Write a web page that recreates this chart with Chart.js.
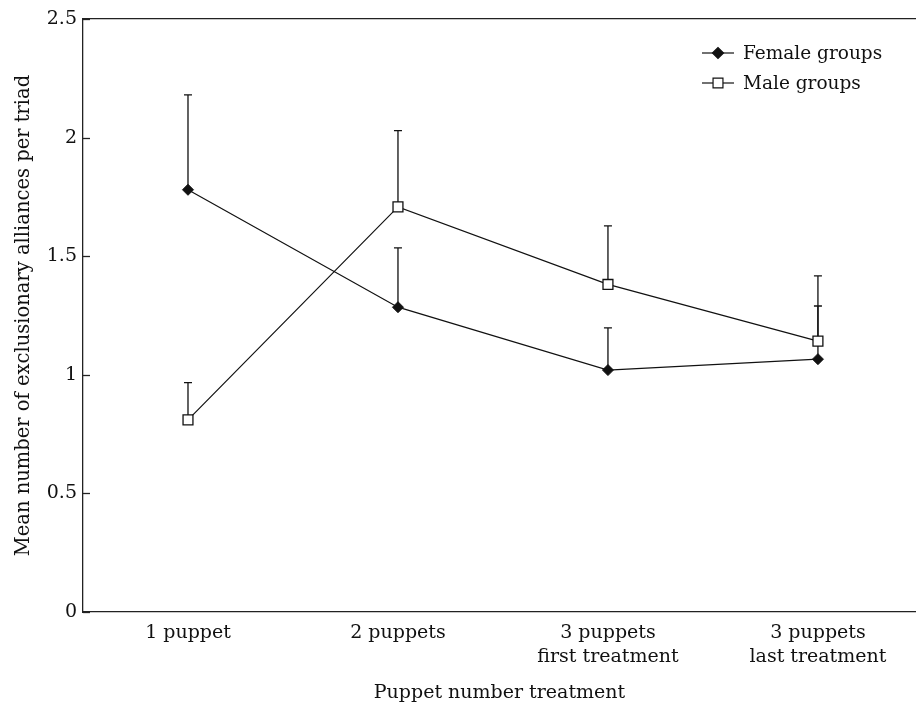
<!DOCTYPE html>
<html>
<head>
<meta charset="utf-8">
<script src="https://cdn.jsdelivr.net/npm/chart.js@4.4.0/dist/chart.umd.min.js"></script>
<style>
  html, body { margin: 0; padding: 0; background: #fff; }
  #wrap { width: 916px; height: 704px; }
</style>
</head>
<body>
<div id="wrap"><canvas id="chart" width="916" height="704"></canvas></div>
<script>
// categories and values
const categories = [["1 puppet"], ["2 puppets"], ["3 puppets", "first treatment"], ["3 puppets", "last treatment"]];
const femaleMeans = [1.78, 1.285, 1.02, 1.066];
const femaleUpper = [2.18, 1.535, 1.198, 1.29];
const maleMeans = [0.81, 1.708, 1.381, 1.142];
const maleUpper = [0.967, 2.029, 1.628, 1.417];
const yTicks = [0, 0.5, 1, 1.5, 2, 2.5];

const FONT = "'DejaVu Serif', 'Liberation Serif', serif";

function toPoints(vals) {
    return vals.map((v, i) => ({ x: i, y: v }));
}

// upward-only error bars with caps, inward y ticks, legend
const errorBars = {
    id: "errorBars",
    beforeDatasetsDraw(chart) {
        const ctx = chart.ctx;
        const xs = chart.scales.x, ys = chart.scales.y;
        ctx.save();
        ctx.strokeStyle = "#111";
        ctx.lineWidth = 1.3;
        chart.data.datasets.forEach(ds => {
            ds.upper.forEach((u, i) => {
                const x = xs.getPixelForValue(i);
                const y0 = ys.getPixelForValue(ds.data[i].y);
                const y1 = ys.getPixelForValue(u);
                ctx.beginPath();
                ctx.moveTo(x, y0);
                ctx.lineTo(x, y1);
                ctx.moveTo(x - 4, y1);
                ctx.lineTo(x + 4, y1);
                ctx.stroke();
            });
        });
        ctx.restore();
    },
    afterDraw(chart) {
        const ctx = chart.ctx;
        const area = chart.chartArea;
        const ys = chart.scales.y;
        ctx.save();
        ctx.strokeStyle = "#222";
        ctx.lineWidth = 1.3;
        yTicks.forEach(t => {
            const y = Math.round(ys.getPixelForValue(t)) + 0.5;
            ctx.beginPath();
            ctx.moveTo(area.left, y);
            ctx.lineTo(area.left + 7, y);
            ctx.stroke();
        });
        ctx.font = "18.5px " + FONT;
        ctx.textBaseline = "middle";
        chart.data.datasets.forEach((ds, k) => {
            const y = 53 + k * 30;
            const x0 = 702, x1 = 734;
            ctx.strokeStyle = "#111";
            ctx.lineWidth = 1.2;
            ctx.beginPath();
            ctx.moveTo(x0, y);
            ctx.lineTo(x1, y);
            ctx.stroke();
            ctx.fillStyle = ds.pointBackgroundColor;
            ctx.strokeStyle = ds.pointBorderColor;
            Chart.helpers.drawPoint(ctx, { pointStyle: ds.pointStyle, radius: ds.pointRadius, borderWidth: 1.2 }, (x0 + x1) / 2, y);
            ctx.fillStyle = "#111";
            ctx.fillText(ds.label, 743, y + 1);
        });
        ctx.restore();
    }
};

new Chart(document.getElementById("chart"), {
    type: "line",
    data: {
        datasets: [{
            label: "Female groups",
            data: toPoints(femaleMeans),
            upper: femaleUpper,
            borderColor: "#111",
            borderWidth: 1.2,
            pointStyle: "rectRot",
            pointRadius: 5.5,
            pointBackgroundColor: "#111",
            pointBorderColor: "#111",
            pointBorderWidth: 1
        }, {
            label: "Male groups",
            data: toPoints(maleMeans),
            upper: maleUpper,
            borderColor: "#111",
            borderWidth: 1.2,
            pointStyle: "rect",
            pointRadius: 7,
            pointBackgroundColor: "#fff",
            pointBorderColor: "#111",
            pointBorderWidth: 1.3
        }]
    },
    options: {
        responsive: false,
        animation: false,
        layout: { autoPadding: false, padding: { top: 19, right: 0, left: 0, bottom: 0 } },
        plugins: { legend: { display: false }, tooltip: { enabled: false } },
        scales: {
            x: {
                type: "linear",
                min: -0.5,
                max: 3.467,
                afterFit: s => { s.height = 92; },
                afterBuildTicks: s => { s.ticks = categories.map((c, i) => ({ value: i })); },
                grid: { display: false, drawTicks: false },
                border: { display: true, color: "#222", width: 1.3 },
                ticks: {
                    padding: 9,
                    maxRotation: 0,
                    autoSkip: false,
                    color: "#111",
                    font: { family: FONT, size: 19, lineHeight: 1.25 },
                    callback: v => categories[v]
                },
                title: {
                    display: true,
                    text: "Puppet number treatment",
                    color: "#111",
                    font: { family: FONT, size: 19 },
                    padding: { top: 0, bottom: 0 }
                }
            },
            xTop: {
                type: "linear",
                position: "top",
                min: -0.5,
                max: 3.467,
                afterBuildTicks: s => { s.ticks = []; },
                afterFit: s => { s.height = 0; },
                grid: { display: false, drawTicks: false },
                border: { display: true, color: "#222", width: 1.3 },
                ticks: { display: false }
            },
            y: {
                min: 0,
                max: 2.5,
                afterFit: s => { s.width = 83; },
                afterBuildTicks: s => { s.ticks = yTicks.map(v => ({ value: v })); },
                grid: { display: false, drawTicks: false },
                border: { display: true, color: "#222", width: 1.3 },
                ticks: {
                    padding: 6,
                    color: "#111",
                    font: { family: FONT, size: 19 },
                    callback: v => String(v)
                },
                title: {
                    display: true,
                    text: "Mean number of exclusionary alliances per triad",
                    color: "#111",
                    font: { family: FONT, size: 19.5 },
                    padding: { top: 12, bottom: 0 }
                }
            }
        }
    },
    plugins: [errorBars]
});
</script>
</body>
</html>
